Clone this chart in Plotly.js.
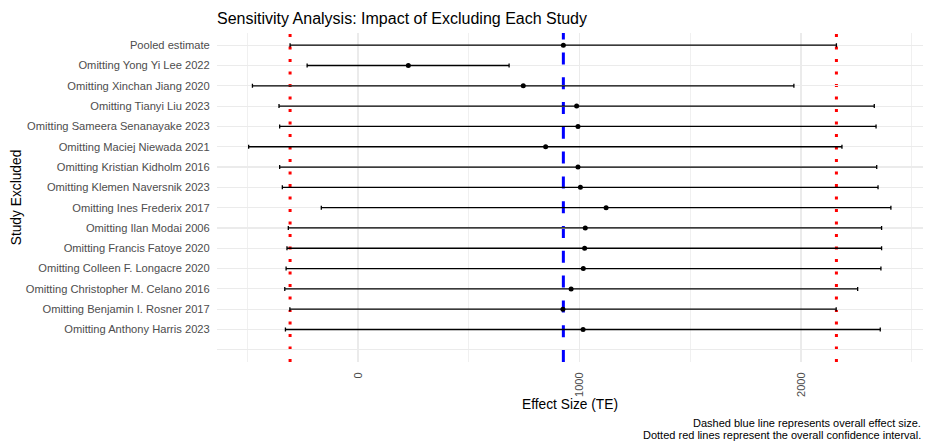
<!DOCTYPE html>
<html>
<head>
<meta charset="utf-8">
<script src="https://cdn.plot.ly/plotly-3.0.1.min.js"></script>
<style>html,body{margin:0;padding:0;background:#fff;}#chart{width:926px;height:441px;}</style>
</head>
<body>
<div id="chart"></div>
<script>
// Studies, top to bottom as shown
const studies = [
  "Pooled estimate",
  "Omitting Yong Yi Lee 2022",
  "Omitting Xinchan Jiang 2020",
  "Omitting Tianyi Liu 2023",
  "Omitting Sameera Senanayake 2023",
  "Omitting Maciej Niewada 2021",
  "Omitting Kristian Kidholm 2016",
  "Omitting Klemen Naversnik 2023",
  "Omitting Ines Frederix 2017",
  "Omitting Ilan Modai 2006",
  "Omitting Francis Fatoye 2020",
  "Omitting Colleen F. Longacre 2020",
  "Omitting Christopher M. Celano 2016",
  "Omitting Benjamin I. Rosner 2017",
  "Omitting Anthony Harris 2023"
];
const estimate = [927, 227, 746, 987, 993, 847, 993, 1004, 1120, 1026, 1023, 1017, 962, 925, 1016];
const ciLower  = [-307, -230, -477, -357, -354, -494, -354, -342, -166, -315, -321, -325, -331, -308, -328];
const ciUpper  = [2160, 682, 1968, 2331, 2339, 2185, 2342, 2348, 2406, 2364, 2364, 2361, 2256, 2159, 2358];
const overallEffect = 927;
const overallLower = -307;
const overallUpper = 2160;
const xTickVals = [0, 1000, 2000];
const xTickText = ["0", "1000", "2000"];
const blankCategory = " ";

const FONT = "Liberation Sans, Arial, Helvetica, sans-serif";

const trace = {
  type: "scatter",
  mode: "markers",
  x: estimate,
  y: studies,
  marker: {color: "#000000", size: 5},
  error_x: {
    type: "data",
    symmetric: false,
    array: estimate.map((e, i) => ciUpper[i] - e),
    arrayminus: estimate.map((e, i) => e - ciLower[i]),
    color: "#000000",
    thickness: 1.3,
    width: 2
  },
  hoverinfo: "x+y",
  showlegend: false
};

const categoryOrder = [blankCategory].concat(studies.slice().reverse());

function vline(x, color, dash) {
  return {
    type: "line", xref: "x", yref: "paper",
    x0: x, x1: x, y0: 0, y1: 1,
    line: {color: color, width: 3, dash: dash},
    layer: "below"
  };
}

const layout = {
  width: 926, height: 441,
  margin: {l: 217, r: 3, t: 33, b: 79},
  paper_bgcolor: "#ffffff",
  plot_bgcolor: "#ffffff",
  font: {family: FONT, color: "#000000"},
  title: {
    text: "Sensitivity Analysis: Impact of Excluding Each Study",
    font: {family: FONT, size: 16, color: "#000000"},
    xref: "paper", x: 0, xanchor: "left",
    yref: "container", y: 1 - 18 / 441, yanchor: "middle"
  },
  xaxis: {
    range: [-637, 2551],
    tickmode: "array",
    tickvals: xTickVals,
    ticktext: xTickText,
    tickangle: -90,
    ticks: "outside", ticklen: 5, tickcolor: "rgba(0,0,0,0)",
    tickfont: {family: FONT, size: 11, color: "#4D4D4D"},
    showgrid: true, gridcolor: "#EBEBEB", gridwidth: 1.2,
    minor: {tickmode: "array", tickvals: [-500, 500, 1500, 2500], showgrid: true, gridcolor: "#F0F0F0", gridwidth: 1, ticks: ""},
    zeroline: false, showline: false,
    title: {text: "Effect Size (TE)", font: {family: FONT, size: 13.75, color: "#000000"}, standoff: 2},
    automargin: false
  },
  yaxis: {
    type: "category",
    categoryorder: "array",
    categoryarray: categoryOrder,
    range: [-0.6, 15.6],
    ticks: "outside", ticklen: 4, tickcolor: "rgba(0,0,0,0)",
    tickfont: {family: FONT, size: 11.15, color: "#4D4D4D"},
    showgrid: true, gridcolor: "#EBEBEB", gridwidth: 1.2,
    zeroline: false, showline: false,
    title: {text: "Study Excluded", font: {family: FONT, size: 13.75, color: "#000000"}, standoff: 1},
    automargin: false
  },
  shapes: [
    vline(overallEffect, "#0000FF", "12px,12.8px"),
    vline(overallLower, "#FF0000", "3px,9.5px"),
    vline(overallUpper, "#FF0000", "3px,9.5px")
  ],
  annotations: [
    {
      text: "Dashed blue line represents overall effect size.",
      xref: "paper", yref: "paper", x: 1, y: (362 - 423.3) / 329,
      xanchor: "right", yanchor: "middle", showarrow: false, align: "right",
      font: {family: FONT, size: 11, color: "#000000"}
    },
    {
      text: "Dotted red lines represent the overall confidence interval.",
      xref: "paper", yref: "paper", x: 1, y: (362 - 435) / 329,
      xanchor: "right", yanchor: "middle", showarrow: false, align: "right",
      font: {family: FONT, size: 11, color: "#000000"}
    }
  ],
  showlegend: false
};

Plotly.newPlot("chart", [trace], layout, {displayModeBar: false, staticPlot: true});
</script>
</body>
</html>
